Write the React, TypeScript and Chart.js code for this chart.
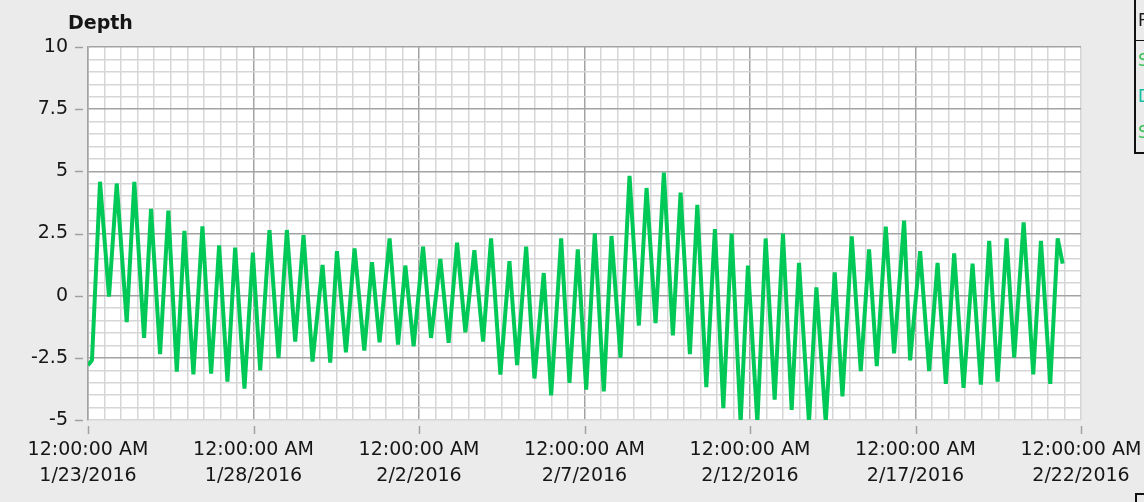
import React, { useEffect, useRef } from 'react';
import { Chart, registerables } from 'chart.js';

Chart.register(...registerables);

// ---- data ----
const TITLE = 'Depth';
const TIME_LABEL = '12:00:00 AM';
const DATE_LABELS = ['1/23/2016', '1/28/2016', '2/2/2016', '2/7/2016', '2/12/2016', '2/17/2016', '2/22/2016'];
const Y_TICK_LABELS = ['-5', '-2.5', '0', '2.5', '5', '7.5', '10'];
const Y_MIN = -5;
const Y_MAX = 10;
const X_MIN = 0; // days after 1/23/2016 00:00
const X_MAX = 30;

// days since 1/23/2016 12:00:00 AM at each turning point of the trace
const DAYS = [
  0.0, 0.12, 0.363, 0.635, 0.868, 1.17, 1.4, 1.694, 1.905, 2.177, 2.428, 2.682, 2.912, 3.184, 3.457, 3.72,
  3.962, 4.213, 4.446, 4.727, 4.981, 5.202, 5.483, 5.755, 6.009, 6.26, 6.511, 6.783, 7.086, 7.318, 7.521,
  7.793, 8.053, 8.347, 8.58, 8.809, 9.112, 9.366, 9.587, 9.838, 10.122, 10.364, 10.645, 10.896, 11.15,
  11.401, 11.673, 11.936, 12.178, 12.459, 12.732, 12.964, 13.237, 13.488, 13.769, 13.993, 14.295, 14.546,
  14.797, 15.051, 15.311, 15.583, 15.816, 16.088, 16.36, 16.642, 16.875, 17.147, 17.398, 17.67, 17.903,
  18.184, 18.408, 18.68, 18.94, 19.194, 19.445, 19.717, 19.938, 20.222, 20.473, 20.745, 20.996, 21.259,
  21.48, 21.782, 22.006, 22.288, 22.56, 22.793, 23.074, 23.346, 23.597, 23.83, 24.102, 24.353, 24.656,
  24.837, 25.14, 25.412, 25.666, 25.917, 26.168, 26.452, 26.724, 26.975, 27.226, 27.48, 27.752, 27.982,
  28.267, 28.557, 28.79, 29.071, 29.295, 29.446,
];

// depth at each of those points
const DEPTH = [
  -2.8, -2.6, 4.58, -0.04, 4.51, -1.06, 4.58, -1.7, 3.49, -2.35, 3.42, -3.06, 2.61, -3.17, 2.79, -3.14,
  2.02, -3.46, 1.93, -3.74, 1.73, -3.0, 2.64, -2.51, 2.64, -1.85, 2.43, -2.65, 1.24, -2.69, 1.79,
  -2.28, 1.9, -2.21, 1.35, -1.88, 2.3, -1.97, 1.21, -2.04, 1.97, -1.7, 1.48, -1.9, 2.13,
  -1.47, 1.83, -1.85, 2.3, -3.17, 1.39, -2.79, 1.97, -3.33, 0.91, -4.01, 2.3, -3.51,
  1.86, -3.78, 2.51, -3.85, 2.4, -2.49, 4.82, -1.2, 4.33, -1.1, 4.95, -1.6, 4.14,
  -2.35, 3.65, -3.68, 2.68, -4.52, 2.5, -5.1, 1.21, -5.1, 2.3, -4.18, 2.5, -4.59,
  1.32, -5.1, 0.33, -5.1, 0.94, -4.05, 2.38, -3.03, 1.86, -2.83, 2.78, -2.32, 3.02,
  -2.6, 1.79, -3.03, 1.32, -3.55, 1.7, -3.71, 1.29, -3.58, 2.2, -3.46, 2.3, -2.49,
  2.95, -3.17, 2.2, -3.55, 2.3, 1.29,
];

const LEGEND_ITEMS = [
  { text: 'S', color: '#3cc25a' },
  { text: 'D', color: '#12c0a0' },
  { text: 'S', color: '#3cc25a' },
];

// ---- styles ----
const PAGE_BG = '#ebebeb';
const LINE_COLOR = '#00c957';
const MAJOR_GRID = '#a3a3a3';
const MINOR_GRID = '#d6d6d6';
const TEXT_COLOR = '#161616';
const FONT = '"DejaVu Sans", Verdana, sans-serif';

const isMult = (v: number, step: number) => Math.abs(v / step - Math.round(v / step)) < 1e-6;

export default function App() {
  const ref = useRef<HTMLCanvasElement | null>(null);

  useEffect(() => {
    if (!ref.current) return;

    const decor = {
      id: 'decor',
      beforeDraw(chart: any) {
        const { ctx, chartArea } = chart;
        ctx.save();
        ctx.fillStyle = '#ffffff';
        ctx.fillRect(chartArea.left, chartArea.top, chartArea.right - chartArea.left, chartArea.bottom - chartArea.top);
        ctx.restore();
      },
      afterDraw(chart: any) {
        const { ctx, chartArea } = chart;
        const xs = chart.scales.x;
        const ys = chart.scales.y;
        ctx.save();
        ctx.strokeStyle = '#a0a0a0';
        ctx.lineWidth = 1.5;
        // y tick dashes
        Y_TICK_LABELS.forEach((t) => {
          const py = Math.round(ys.getPixelForValue(parseFloat(t))) + 0.5;
          ctx.beginPath();
          ctx.moveTo(chartArea.left - 13, py);
          ctx.lineTo(chartArea.left - 5, py);
          ctx.stroke();
        });
        // x tick dashes
        DATE_LABELS.forEach((_, i) => {
          const px = Math.round(xs.getPixelForValue(i * 5)) + 0.5;
          ctx.beginPath();
          ctx.moveTo(px, chartArea.bottom + 6);
          ctx.lineTo(px, chartArea.bottom + 14);
          ctx.stroke();
        });
        // title
        ctx.fillStyle = TEXT_COLOR;
        ctx.font = 'bold 19px ' + FONT;
        ctx.textBaseline = 'alphabetic';
        ctx.textAlign = 'left';
        ctx.fillText(TITLE, 68, 29);
        ctx.restore();
      },
    };

    const chart = new Chart(ref.current, {
      type: 'line',
      data: {
        datasets: [
          {
            data: DAYS.map((d, i) => ({ x: d, y: DEPTH[i] })),
            borderColor: LINE_COLOR,
            borderWidth: 4,
            pointRadius: 0,
            tension: 0,
            fill: false,
            clip: 0,
            borderJoinStyle: 'bevel',
          } as any,
        ],
      },
      options: {
        animation: false,
        responsive: false,
        maintainAspectRatio: false,
        layout: { padding: { top: 47, right: 63, left: 0, bottom: 0 } },
        plugins: { legend: { display: false }, tooltip: { enabled: false }, title: { display: false } },
        scales: {
          x: {
            type: 'linear',
            min: X_MIN,
            max: X_MAX,
            afterBuildTicks: (scale: any) => {
              const t = [];
              for (let i = 0; i <= 60; i++) t.push({ value: X_MIN + i * 0.5 });
              scale.ticks = t;
            },
            afterFit: (scale: any) => {
              scale.height = 82;
              scale.paddingLeft = 0;
              scale.paddingRight = 0;
            },
            ticks: {
              autoSkip: false,
              maxRotation: 0,
              minRotation: 0,
              padding: 18,
              color: TEXT_COLOR,
              font: { family: FONT, size: 19, lineHeight: 1.32 },
              callback: (v: any) => {
                const n = Number(v);
                if (isMult(n, 5)) return [TIME_LABEL, DATE_LABELS[Math.round(n / 5)]];
                return '';
              },
            },
            grid: {
              drawTicks: false,
              lineWidth: 1.5,
              color: (c: any) => {
                const v = c.tick ? c.tick.value : 0;
                return isMult(v, 5) && v < X_MAX ? MAJOR_GRID : MINOR_GRID;
              },
            },
            border: { display: false },
          },
          y: {
            type: 'linear',
            min: Y_MIN,
            max: Y_MAX,
            afterBuildTicks: (scale: any) => {
              const t = [];
              for (let i = 0; i <= 30; i++) t.push({ value: Y_MIN + i * 0.5 });
              scale.ticks = t;
            },
            afterFit: (scale: any) => {
              scale.width = 88;
              scale.paddingTop = 0;
              scale.paddingBottom = 0;
            },
            ticks: {
              autoSkip: false,
              padding: 20,
              color: TEXT_COLOR,
              font: { family: FONT, size: 19 },
              callback: (v: any) => {
                const n = Number(v);
                if (isMult(n, 2.5)) {
                  const idx = Math.round((n - Y_MIN) / 2.5);
                  return Y_TICK_LABELS[idx];
                }
                return '';
              },
            },
            grid: {
              drawTicks: false,
              lineWidth: 1.5,
              color: (c: any) => {
                const v = c.tick ? c.tick.value : 0;
                return isMult(v, 2.5) && v > Y_MIN ? MAJOR_GRID : MINOR_GRID;
              },
            },
            border: { display: true, color: MAJOR_GRID, width: 1.5 },
          },
        },
      },
      plugins: [decor],
    } as any);

    return () => chart.destroy();
  }, []);

  return (
    <div
      style={{
        position: 'absolute',
        left: 0,
        top: 0,
        width: 1144,
        height: 502,
        background: PAGE_BG,
        overflow: 'hidden',
      }}
    >
      <canvas ref={ref} width={1144} height={502} style={{ position: 'absolute', left: 0, top: 0, width: 1144, height: 502 }} />
      <div
        style={{
          position: 'absolute',
          left: 1134,
          top: -2,
          width: 80,
          height: 156,
          border: '2px solid #111',
          boxSizing: 'border-box',
          fontFamily: FONT,
          fontSize: 17,
        }}
      >
        <div style={{ position: 'absolute', left: 2, top: 10, color: '#1a1a1a' }}>P</div>
        <div style={{ position: 'absolute', left: 0, top: 40, width: '100%', borderTop: '1.5px solid #111' }} />
        {LEGEND_ITEMS.map((it, i) => (
          <div key={i} style={{ position: 'absolute', left: 2, top: 50 + i * 36, color: it.color }}>
            {it.text}
          </div>
        ))}
      </div>
      <div
        style={{
          position: 'absolute',
          left: 1135,
          top: 493,
          width: 30,
          height: 30,
          borderLeft: '2px solid #111',
          borderTop: '2px solid #111',
        }}
      />
    </div>
  );
}
